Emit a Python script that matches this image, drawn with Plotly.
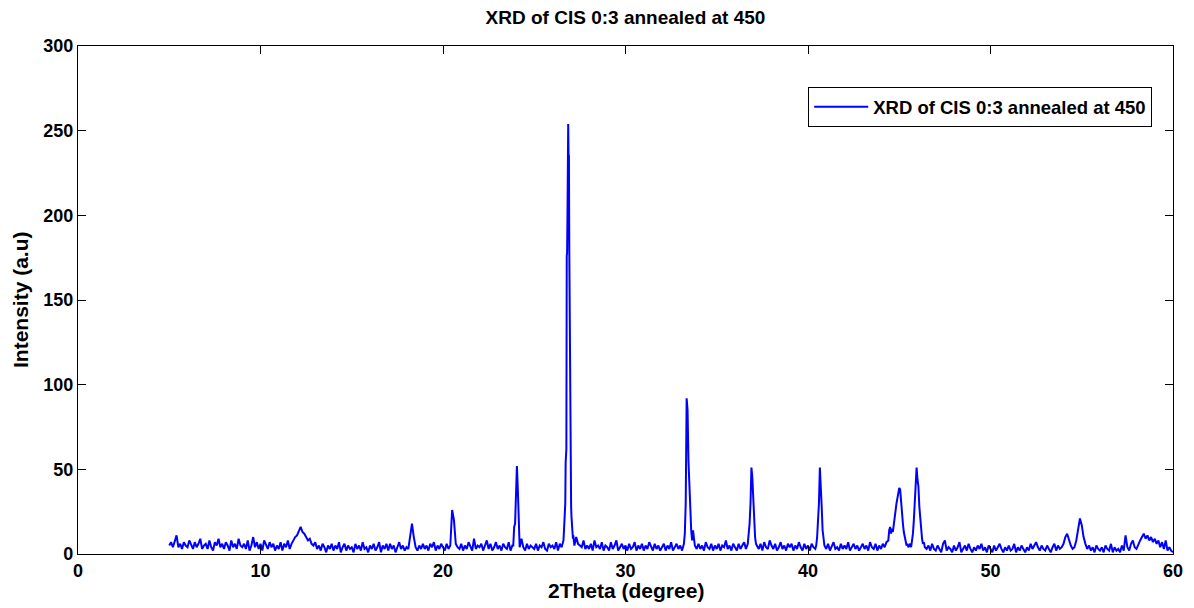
import plotly.graph_objects as go

# ---- data ----
# coarse scan, 2theta = 5.0 ... 60.0 step 0.1
base_start = 5.0
base_step = 0.1
base_y = [
    5, 7, 4, 8, 11, 4, 6, 3, 7, 5,      # 5
    4, 8, 5, 3, 7, 4, 6, 9, 3, 5,       # 6
    6, 3, 8, 4, 2, 7, 5, 9, 4, 6,       # 7
    3, 7, 5, 2, 8, 4, 6, 3, 9, 5,       # 8
    4, 6, 3, 8, 2, 5, 10, 4, 7, 3,      # 9
    6, 2, 8, 5, 3, 7, 4, 6, 2, 5,       # 10
    3, 7, 2, 6, 4, 8, 3, 6, 8, 10,      # 11
    11, 14, 16, 13, 12, 10, 8, 9, 6, 5, # 12
    7, 3, 5, 2, 6, 4, 1, 5, 3, 6,       # 13
    2, 5, 3, 7, 1, 4, 6, 2, 5, 3,       # 14
    4, 1, 6, 3, 5, 2, 7, 3, 4, 1,       # 15
    5, 3, 6, 2, 4, 7, 1, 5, 3, 6,       # 16
    2, 6, 3, 5, 1, 4, 7, 3, 5, 2,       # 17
    4, 3, 12, 18, 10, 4, 2, 5, 3, 6,    # 18
    3, 5, 2, 6, 4, 7, 2, 5, 3, 6,       # 19
    4, 2, 6, 3, 5, 26, 20, 6, 4, 3,     # 20
    6, 2, 5, 3, 7, 4, 2, 9, 3, 5,       # 21
    4, 6, 2, 5, 8, 3, 6, 2, 4, 7,       # 22
    3, 5, 2, 6, 4, 3, 7, 2, 5, 3,       # 23
    8, 52, 38, 9, 4, 2, 6, 3, 5, 4,     # 24
    3, 6, 2, 5, 4, 7, 3, 2, 6, 4,       # 25
    5, 3, 7, 2, 6, 4, 8, 6, 5, 9,       # 26
    20, 12, 8, 10, 6, 5, 4, 8, 3, 5,    # 27
    3, 6, 2, 8, 4, 5, 3, 7, 2, 5,       # 28
    4, 2, 7, 3, 5, 8, 2, 4, 6, 3,       # 29
    5, 2, 6, 3, 4, 7, 2, 5, 3, 6,       # 30
    2, 5, 3, 7, 4, 2, 6, 3, 5, 2,       # 31
    4, 6, 2, 5, 3, 7, 2, 4, 6, 3,       # 32
    5, 2, 6, 4, 28, 92, 55, 14, 5, 3,   # 33
    6, 3, 5, 2, 7, 4, 3, 6, 2, 5,       # 34
    3, 6, 2, 5, 4, 8, 3, 5, 2, 6,       # 35
    4, 2, 6, 3, 5, 7, 3, 20, 51, 30,    # 36
    15, 8, 5, 3, 6, 2, 7, 4, 3, 8,      # 37
    5, 3, 6, 2, 4, 7, 3, 5, 2, 6,       # 38
    4, 6, 2, 5, 3, 7, 4, 2, 6, 3,       # 39
    5, 2, 6, 4, 3, 30, 51, 20, 8, 5,    # 40
    3, 6, 2, 5, 7, 3, 4, 2, 6, 3,       # 41
    5, 3, 7, 2, 4, 6, 3, 5, 2, 4,       # 42
    6, 3, 5, 2, 7, 4, 3, 6, 2, 5,       # 43
    3, 6, 4, 7, 8, 14, 16, 13, 22, 33,  # 44
    39, 26, 10, 5, 6, 4, 8, 20, 45, 51, # 45
    44, 28, 12, 6, 4, 3, 5, 2, 6, 3,    # 46
    2, 5, 3, 1, 6, 8, 2, 4, 3, 1,       # 47
    5, 2, 4, 7, 1, 3, 5, 2, 6, 3,       # 48
    1, 4, 2, 5, 3, 6, 2, 4, 1, 5,       # 49
    3, 1, 5, 2, 4, 6, 3, 1, 4, 2,       # 50
    5, 2, 3, 6, 1, 4, 2, 5, 3, 1,       # 51
    4, 2, 6, 3, 5, 7, 4, 2, 5, 3,       # 52
    2, 5, 3, 1, 4, 6, 2, 5, 3, 4,       # 53
    6, 10, 12, 8, 5, 3, 4, 8, 14, 21,   # 54
    17, 10, 6, 3, 5, 2, 4, 1, 5, 3,     # 55
    2, 4, 1, 5, 3, 2, 6, 1, 4, 2,       # 56
    3, 1, 5, 2, 11, 4, 2, 6, 8, 4,      # 57
    3, 6, 8, 10, 12, 9, 11, 8, 10, 7,   # 58
    9, 6, 8, 4, 7, 3, 8, 2, 4, 2,       # 59
    1,                                  # 60
]

# fine scans around the sharp reflections: (start, step, values)
peak24_y = [5, 16, 18, 39, 52, 38, 10, 4]
peak27_y = [8, 12, 15, 20, 22, 30, 54, 60, 62, 176, 178, 200, 254, 254, 235, 235,
            180, 130, 130, 70, 40, 28, 22, 18, 14, 12, 9, 11, 7, 8, 5]
peak33_y = [6, 12, 30, 92, 85, 55, 40, 28, 14, 8]
peak37_y = [6, 12, 18, 30, 51, 45, 30, 15, 10, 6]
peak41_y = [5, 10, 18, 30, 51, 42, 28, 14, 9, 5]
peak45_y = [8, 14, 16, 12, 15, 13, 18, 22, 24, 30, 33, 37, 39, 38, 30, 26, 18, 13,
            10, 7, 5, 6, 4, 5, 6, 4, 8, 12, 20, 32, 45, 51, 44, 40, 28, 20, 12, 9,
            6, 7, 4]
segments = [
    (23.85, 0.05, peak24_y),
    (26.60, 0.02, peak27_y),
    (33.20, 0.05, peak33_y),
    (36.70, 0.05, peak37_y),
    (40.45, 0.05, peak41_y),
    (44.40, 0.05, peak45_y),
]

series_name = "XRD of CIS 0:3 annealed at 450"
x_ticks = [0, 10, 20, 30, 40, 50, 60]
y_ticks = [0, 50, 100, 150, 200, 250, 300]

# ---- merge coarse and fine scans ----
pts = [(round(base_start + base_step * i, 3), v) for i, v in enumerate(base_y)]
for start, step, vals in segments:
    end = start + step * (len(vals) - 1)
    pts = [p for p in pts if not (start - 1e-9 <= p[0] <= end + 1e-9)]
    pts += [(round(start + step * i, 3), v) for i, v in enumerate(vals)]
pts.sort()
xs = [p[0] for p in pts]
ys = [p[1] for p in pts]

FONT = "Liberation Sans, Arial, sans-serif"

fig = go.Figure()
fig.add_trace(go.Scatter(
    x=xs, y=ys, mode="lines", name=series_name,
    line=dict(color="#0000ff", width=2),
))

axis_common = dict(
    showline=True, linecolor="black", linewidth=1.2, mirror="ticks",
    ticks="inside", ticklen=8, tickwidth=1.2, tickcolor="black",
    showgrid=False, zeroline=False,
    tickfont=dict(family=FONT, size=18, color="black", weight="bold"),
)
fig.update_xaxes(range=[0, 60], tickvals=x_ticks, **axis_common)
fig.update_yaxes(range=[0, 300], tickvals=y_ticks, **axis_common)

fig.update_layout(
    width=1194, height=608,
    margin=dict(l=78, r=11, t=46, b=54),
    paper_bgcolor="white", plot_bgcolor="white",
    title=dict(text=series_name, x=0.5, xref="paper", xanchor="center",
               y=1 - 17 / 608, yref="container", yanchor="middle",
               font=dict(family=FONT, size=19, color="black", weight="bold")),
    showlegend=True,
    legend=dict(x=0.981, xanchor="right", y=0.919, yanchor="top",
                bgcolor="white", bordercolor="black", borderwidth=1,
                itemwidth=54, tracegroupgap=0,
                font=dict(family=FONT, size=18.5, color="black", weight="bold")),
    annotations=[
        dict(text="2Theta (degree)", xref="paper", yref="paper", x=0.5, y=0,
             yshift=-36, xanchor="center", yanchor="middle", showarrow=False,
             font=dict(family=FONT, size=21, color="black", weight="bold")),
        dict(text="Intensity (a.u)", xref="paper", yref="paper", x=0, y=0.5,
             xshift=-58, xanchor="center", yanchor="middle", showarrow=False,
             textangle=-90,
             font=dict(family=FONT, size=21, color="black", weight="bold")),
    ],
)

fig.write_html("out.html")
